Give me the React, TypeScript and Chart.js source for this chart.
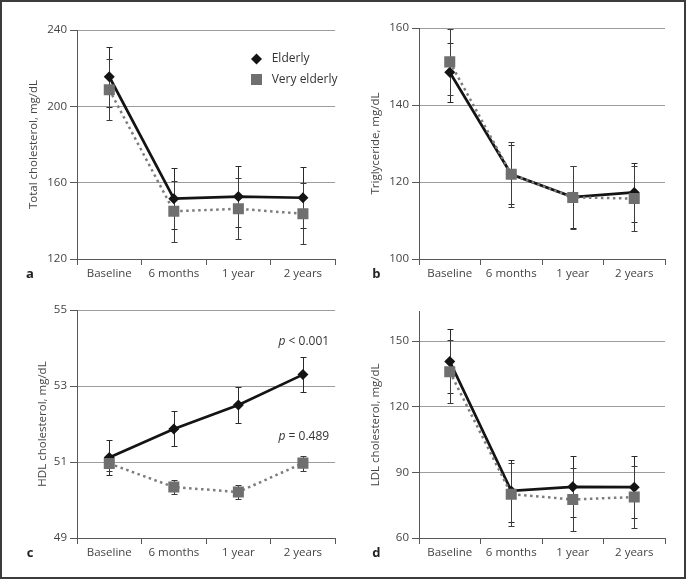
import React, { useEffect, useRef } from 'react';
import { Chart, registerables } from 'chart.js';

Chart.register(...registerables);

// ---------- data ----------
const categories = ['Baseline', '6 months', '1 year', '2 years'];
const seriesNames = ['Elderly', 'Very elderly'];

// a: Total cholesterol
const tcElderly = [215.5, 151.6, 152.7, 152.1];
const tcElderlyErr = [15.6, 15.9, 16.0, 15.9];
const tcVery = [208.7, 145.0, 146.3, 143.7];
const tcVeryErr = [15.9, 16.0, 16.0, 16.0];

// b: Triglyceride
const tgElderly = [148.5, 122.0, 116.1, 117.3];
const tgElderlyErr = [7.7, 7.7, 8.1, 7.6];
const tgVery = [151.2, 122.0, 116.0, 115.7];
const tgVeryErr = [8.5, 8.4, 8.2, 8.4];

// c: HDL cholesterol
const hdlElderly = [51.12, 51.87, 52.5, 53.3];
const hdlElderlyErr = [0.45, 0.46, 0.47, 0.46];
const hdlVery = [50.96, 50.34, 50.21, 50.97];
const hdlVeryErr = [0.19, 0.19, 0.19, 0.2];

// d: LDL cholesterol
const ldlElderly = [140.7, 81.5, 83.4, 83.2];
const ldlElderlyErr = [14.6, 14.2, 14.0, 14.1];
const ldlVery = [136.0, 80.0, 77.6, 78.7];
const ldlVeryErr = [14.3, 14.4, 14.3, 14.3];

const pLabels = ['p', ' < 0.001', ' = 0.489'];
const pValuesAt = [54.17, 51.67];

// ---------- styles ----------
const FAMILY = "'Open Sans', 'Noto Sans', sans-serif";
const FS = 11.5;
const TEXT = '#444444';
const AXIS = '#585858';
const GRID = '#9c9c9c';
const ELD = '#141414';
const VE = '#6f6f6f';
const VE_LINE = '#7c7c7c';

type Spec = {
  letter: string;
  yTitle: string;
  elderly: number[];
  elderlyErr: number[];
  very: number[];
  veryErr: number[];
  yMin: number;
  yMax: number;
  yStep: number;
  canvasX: number;
  canvasY: number;
  areaLeft: number;
  areaTop: number;
  padRight: number;
  xHeight: number;
  titleCenter: number;
  letterX: number;
  letterY: number;
  legend?: boolean;
  pText?: boolean;
};

const panels: Spec[] = [
  {
    letter: 'a', yTitle: 'Total cholesterol, mg/dL',
    elderly: tcElderly, elderlyErr: tcElderlyErr, very: tcVery, veryErr: tcVeryErr,
    yMin: 120, yMax: 240, yStep: 40,
    canvasX: 0, canvasY: 0, areaLeft: 77, areaTop: 30, padRight: 6, xHeight: 31,
    titleCenter: 34, letterX: 30, letterY: 274, legend: true,
  },
  {
    letter: 'b', yTitle: 'Triglyceride, mg/dL',
    elderly: tgElderly, elderlyErr: tgElderlyErr, very: tgVery, veryErr: tgVeryErr,
    yMin: 100, yMax: 160, yStep: 20,
    canvasX: 343, canvasY: 0, areaLeft: 76, areaTop: 28, padRight: 21, xHeight: 31,
    titleCenter: 32.3, letterX: 33.3, letterY: 274,
  },
  {
    letter: 'c', yTitle: 'HDL cholesterol, mg/dL',
    elderly: hdlElderly, elderlyErr: hdlElderlyErr, very: hdlVery, veryErr: hdlVeryErr,
    yMin: 49, yMax: 55, yStep: 2,
    canvasX: 0, canvasY: 290, areaLeft: 77, areaTop: 20, padRight: 6, xHeight: 42,
    titleCenter: 42.7, letterX: 30, letterY: 263.3, pText: true,
  },
  {
    letter: 'd', yTitle: 'LDL cholesterol, mg/dL',
    elderly: ldlElderly, elderlyErr: ldlElderlyErr, very: ldlVery, veryErr: ldlVeryErr,
    yMin: 60, yMax: 163.4, yStep: 30,
    canvasX: 343, canvasY: 290, areaLeft: 76, areaTop: 21.7, padRight: 21, xHeight: 42,
    titleCenter: 32.3, letterX: 33.3, letterY: 263.3,
  },
];

function makePlugins(spec: Spec) {
  const errorBars = {
    id: 'errorBars',
    beforeDatasetsDraw(chart: any) {
      const ctx = chart.ctx;
      const xs = chart.scales.x;
      const ys = chart.scales.y;
      const sets = [
        { vals: spec.elderly, errs: spec.elderlyErr, color: '#2a2a2a' },
        { vals: spec.very, errs: spec.veryErr, color: '#3c3c3c' },
      ];
      ctx.save();
      ctx.lineWidth = 1;
      sets.forEach((s) => {
        ctx.strokeStyle = s.color;
        s.vals.forEach((v, i) => {
          const px = Math.round(xs.getPixelForValue(i)) + 0.5;
          const top = Math.round(ys.getPixelForValue(v + s.errs[i])) + 0.5;
          const bot = Math.round(ys.getPixelForValue(v - s.errs[i])) + 0.5;
          ctx.beginPath();
          ctx.moveTo(px, top);
          ctx.lineTo(px, bot);
          ctx.moveTo(px - 3, top);
          ctx.lineTo(px + 3, top);
          ctx.moveTo(px - 3, bot);
          ctx.lineTo(px + 3, bot);
          ctx.stroke();
        });
      });
      ctx.restore();
    },
  };

  const overlay = {
    id: 'overlay',
    afterDraw(chart: any) {
      const ctx = chart.ctx;
      ctx.save();
      // panel letter
      ctx.fillStyle = '#222222';
      ctx.font = `bold 13px ${FAMILY}`;
      ctx.textAlign = 'center';
      ctx.textBaseline = 'middle';
      ctx.fillText(spec.letter, spec.letterX, spec.letterY);

      if (spec.legend) {
        const mx = 256.5;
        const tx = 271.7;
        const y1 = 59;
        const y2 = 79.5;
        ctx.fillStyle = ELD;
        ctx.beginPath();
        ctx.moveTo(mx, y1 - 5.5);
        ctx.lineTo(mx + 5.5, y1);
        ctx.lineTo(mx, y1 + 5.5);
        ctx.lineTo(mx - 5.5, y1);
        ctx.closePath();
        ctx.fill();
        ctx.fillStyle = VE;
        ctx.fillRect(mx - 5.5, y2 - 5.5, 11, 11);
        ctx.fillStyle = '#333333';
        ctx.font = `12px ${FAMILY}`;
        ctx.textAlign = 'left';
        ctx.fillText(seriesNames[0], tx, y1);
        ctx.fillText(seriesNames[1], tx, y2);
      }

      if (spec.pText) {
        const ys = chart.scales.y;
        const right = chart.chartArea.right - 6;
        ctx.fillStyle = '#333333';
        ctx.textAlign = 'left';
        ctx.textBaseline = 'middle';
        [pLabels[1], pLabels[2]].forEach((rest, k) => {
          const y = ys.getPixelForValue(pValuesAt[k]);
          ctx.font = `italic 12px ${FAMILY}`;
          const w1 = ctx.measureText(pLabels[0]).width;
          ctx.font = `12px ${FAMILY}`;
          const w2 = ctx.measureText(rest).width;
          const x0 = right - w1 - w2;
          ctx.font = `italic 12px ${FAMILY}`;
          ctx.fillText(pLabels[0], x0, y);
          ctx.font = `12px ${FAMILY}`;
          ctx.fillText(rest, x0 + w1, y);
        });
      }
      ctx.restore();
    },
  };
  return [errorBars, overlay];
}

function buildConfig(spec: Spec): any {
  const lineHeight = FS * 1.2;
  return {
    type: 'line',
    data: {
      labels: categories,
      datasets: [
        {
          label: seriesNames[0],
          data: spec.elderly,
          borderColor: ELD,
          backgroundColor: ELD,
          borderWidth: 2.7,
          pointStyle: 'rectRot',
          pointRadius: 5.5,
          pointBackgroundColor: ELD,
          pointBorderColor: ELD,
          pointBorderWidth: 0,
          tension: 0,
          order: 1,
        },
        {
          label: seriesNames[1],
          data: spec.very,
          borderColor: VE_LINE,
          backgroundColor: VE,
          borderWidth: 2.5,
          borderDash: [2.5, 3.5],
          pointStyle: 'rect',
          pointRadius: 7.8,
          pointBackgroundColor: VE,
          pointBorderColor: VE,
          pointBorderWidth: 0,
          tension: 0,
          order: 0,
        },
      ],
    },
    options: {
      responsive: false,
      animation: false,
      events: [],
      layout: { padding: { left: 0, top: spec.areaTop, right: spec.padRight, bottom: 0 } },
      plugins: { legend: { display: false }, tooltip: { enabled: false } },
      scales: {
        x: {
          type: 'category',
          offset: true,
          grid: {
            offset: true,
            drawOnChartArea: false,
            drawTicks: true,
            tickLength: 6,
            color: AXIS,
            lineWidth: 1,
          },
          border: { display: true, color: AXIS, width: 1 },
          ticks: {
            font: { family: FAMILY, size: FS },
            color: TEXT,
            padding: 2,
            maxRotation: 0,
            autoSkip: false,
          },
          afterFit: (s: any) => {
            s.height = spec.xHeight;
          },
        },
        y: {
          type: 'linear',
          min: spec.yMin,
          max: spec.yMax,
          ticks: {
            stepSize: spec.yStep,
            includeBounds: false,
            font: { family: FAMILY, size: FS },
            color: TEXT,
            padding: 3,
          },
          grid: { color: GRID, lineWidth: 1, tickLength: 7, tickColor: AXIS, drawTicks: true },
          border: { display: true, color: AXIS, width: 1 },
          title: {
            display: true,
            text: spec.yTitle,
            font: { family: FAMILY, size: FS },
            color: TEXT,
            padding: { top: spec.titleCenter - lineHeight / 2, bottom: 0 },
          },
          afterFit: (s: any) => {
            s.width = spec.areaLeft;
          },
        },
      },
    },
    plugins: makePlugins(spec),
  };
}

function Panel({ spec }: { spec: Spec }) {
  const ref = useRef<HTMLCanvasElement | null>(null);
  useEffect(() => {
    if (!ref.current) return;
    const chart = new Chart(ref.current, buildConfig(spec));
    return () => chart.destroy();
  }, [spec]);
  return (
    <canvas
      ref={ref}
      width={343}
      height={290}
      style={{ position: 'absolute', left: spec.canvasX, top: spec.canvasY, width: 343, height: 290 }}
    />
  );
}

export default function App() {
  return (
    <div style={{ position: 'fixed', left: 0, top: 0, width: 686, height: 580, background: '#ffffff', overflow: 'hidden' }}>
      {panels.map((p) => (
        <Panel key={p.letter} spec={p} />
      ))}
      <div
        style={{
          position: 'absolute',
          left: 0,
          top: 0,
          width: 686,
          height: 579,
          boxSizing: 'border-box',
          border: '2px solid #3c3c3c',
          pointerEvents: 'none',
        }}
      />
    </div>
  );
}
